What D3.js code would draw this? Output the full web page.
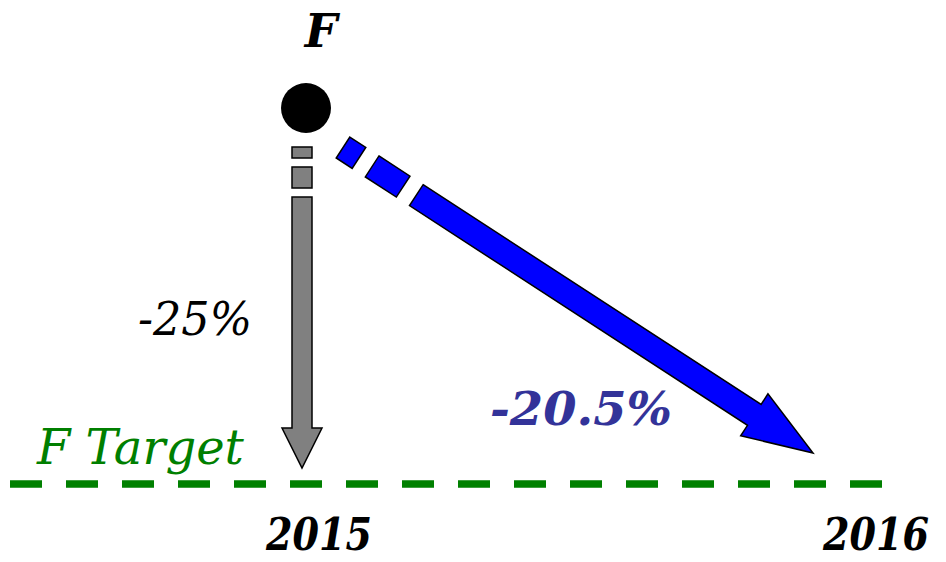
<!DOCTYPE html>
<html>
<head>
<meta charset="utf-8">
<script src="https://cdn.jsdelivr.net/npm/d3@7"></script>
<style>
  body{margin:0;background:#fff;}
</style>
</head>
<body>
<div class="chart"></div>
<script>
const width=946,
      height=562,
      font='DejaVu Serif';

// data
const years=[2015,2016];
const changes=[-25,-20.5];           // % change in F
const changeLabels=["-25%","-20.5%"];
const fNow=1, fTarget=0.75;          // relative F

const svg=d3.select(".chart").append("svg")
  .attr("width",width)
  .attr("height",height);

let x=d3.scaleLinear().domain([2015,2016]).range([302,813]);      // arrow tips
let xLab=d3.scaleLinear().domain([2015,2016]).range([319,876]);   // year labels
let y=d3.scaleLinear().domain([fTarget,fNow]).range([484,108]);

// target line
svg.append("line")
  .attr("x1",10).attr("x2",882)
  .attr("y1",y(fTarget)).attr("y2",y(fTarget))
  .attr("stroke","#008000")
  .attr("stroke-width",7.5)
  .attr("stroke-dasharray","32,24");

svg.append("text")
  .attr("x",37).attr("y",464)
  .style("font-family",font).style("font-style","italic")
  .style("font-size","48px").style("fill","#007f00")
  .text("F Target");

// arrow builder: two dashes then shaft + head
function arrowParts(x0,y0,x1,y1,w,hw,hl){
  let L=Math.hypot(x1-x0,y1-y0), ux=(x1-x0)/L, uy=(y1-y0)/L, nx=-uy, ny=ux;
  let pt=(s,t)=>[x0+ux*s+nx*t, y0+uy*s+ny*t];
  let rect=(a,b)=>[pt(a,-w/2),pt(b,-w/2),pt(b,w/2),pt(a,w/2)];
  let s0=0.156*L, sh=L-hl;
  let main=[pt(s0,-w/2),pt(sh,-w/2),pt(sh,-hw/2),pt(L,0),pt(sh,hw/2),pt(sh,w/2),pt(s0,w/2)];
  return [rect(0,0.034*L),rect(0.062*L,0.128*L),main];
}

let dot={x:x(years[0])+4, y:y(fNow)};

let arrows=[
  {tail:[dot.x-4,dot.y+39], tip:[x(years[0]),y(fTarget)-16], w:20, hw:40, hl:40, fill:"#808080"},
  {tail:[dot.x+37,dot.y+39.5], tip:[x(years[1]),y(fTarget)-31], w:25, hw:50, hl:70, fill:"#0000ff"}
];

arrows.forEach(a=>{
  svg.selectAll(null)
    .data(arrowParts(a.tail[0],a.tail[1],a.tip[0],a.tip[1],a.w,a.hw,a.hl))
    .enter().append("polygon")
      .attr("points",d=>d.map(p=>p.join(",")).join(" "))
      .attr("fill",a.fill)
      .attr("stroke","#000")
      .attr("stroke-width",1.5);
});

// current F
svg.append("circle")
  .attr("cx",dot.x).attr("cy",dot.y).attr("r",25)
  .attr("fill","#000");

svg.append("text")
  .attr("x",dot.x+15).attr("y",47)
  .attr("text-anchor","middle")
  .style("font-family",font).style("font-style","italic").style("font-weight","bold")
  .style("font-size","46px")
  .text("F");

// change labels
svg.append("text")
  .attr("x",138).attr("y",335)
  .attr("textLength",114).attr("lengthAdjust","spacingAndGlyphs")
  .style("font-family",font).style("font-style","italic")
  .style("font-size","46px")
  .text(changeLabels[0]);

svg.append("text")
  .attr("x",490).attr("y",425)
  .attr("textLength",182).attr("lengthAdjust","spacingAndGlyphs")
  .style("font-family",font).style("font-style","italic").style("font-weight","bold")
  .style("font-size","46px").style("fill","#333399")
  .text(changeLabels[1]);

// year labels
svg.selectAll("text.year")
  .data(years)
  .enter().append("text")
    .attr("class","year")
    .attr("x",d=>xLab(d)-53).attr("y",550)
    .attr("textLength",106).attr("lengthAdjust","spacingAndGlyphs")
    .style("font-family",font).style("font-style","italic").style("font-weight","bold")
    .style("font-size","44px")
    .text(d=>d);
</script>
</body>
</html>
